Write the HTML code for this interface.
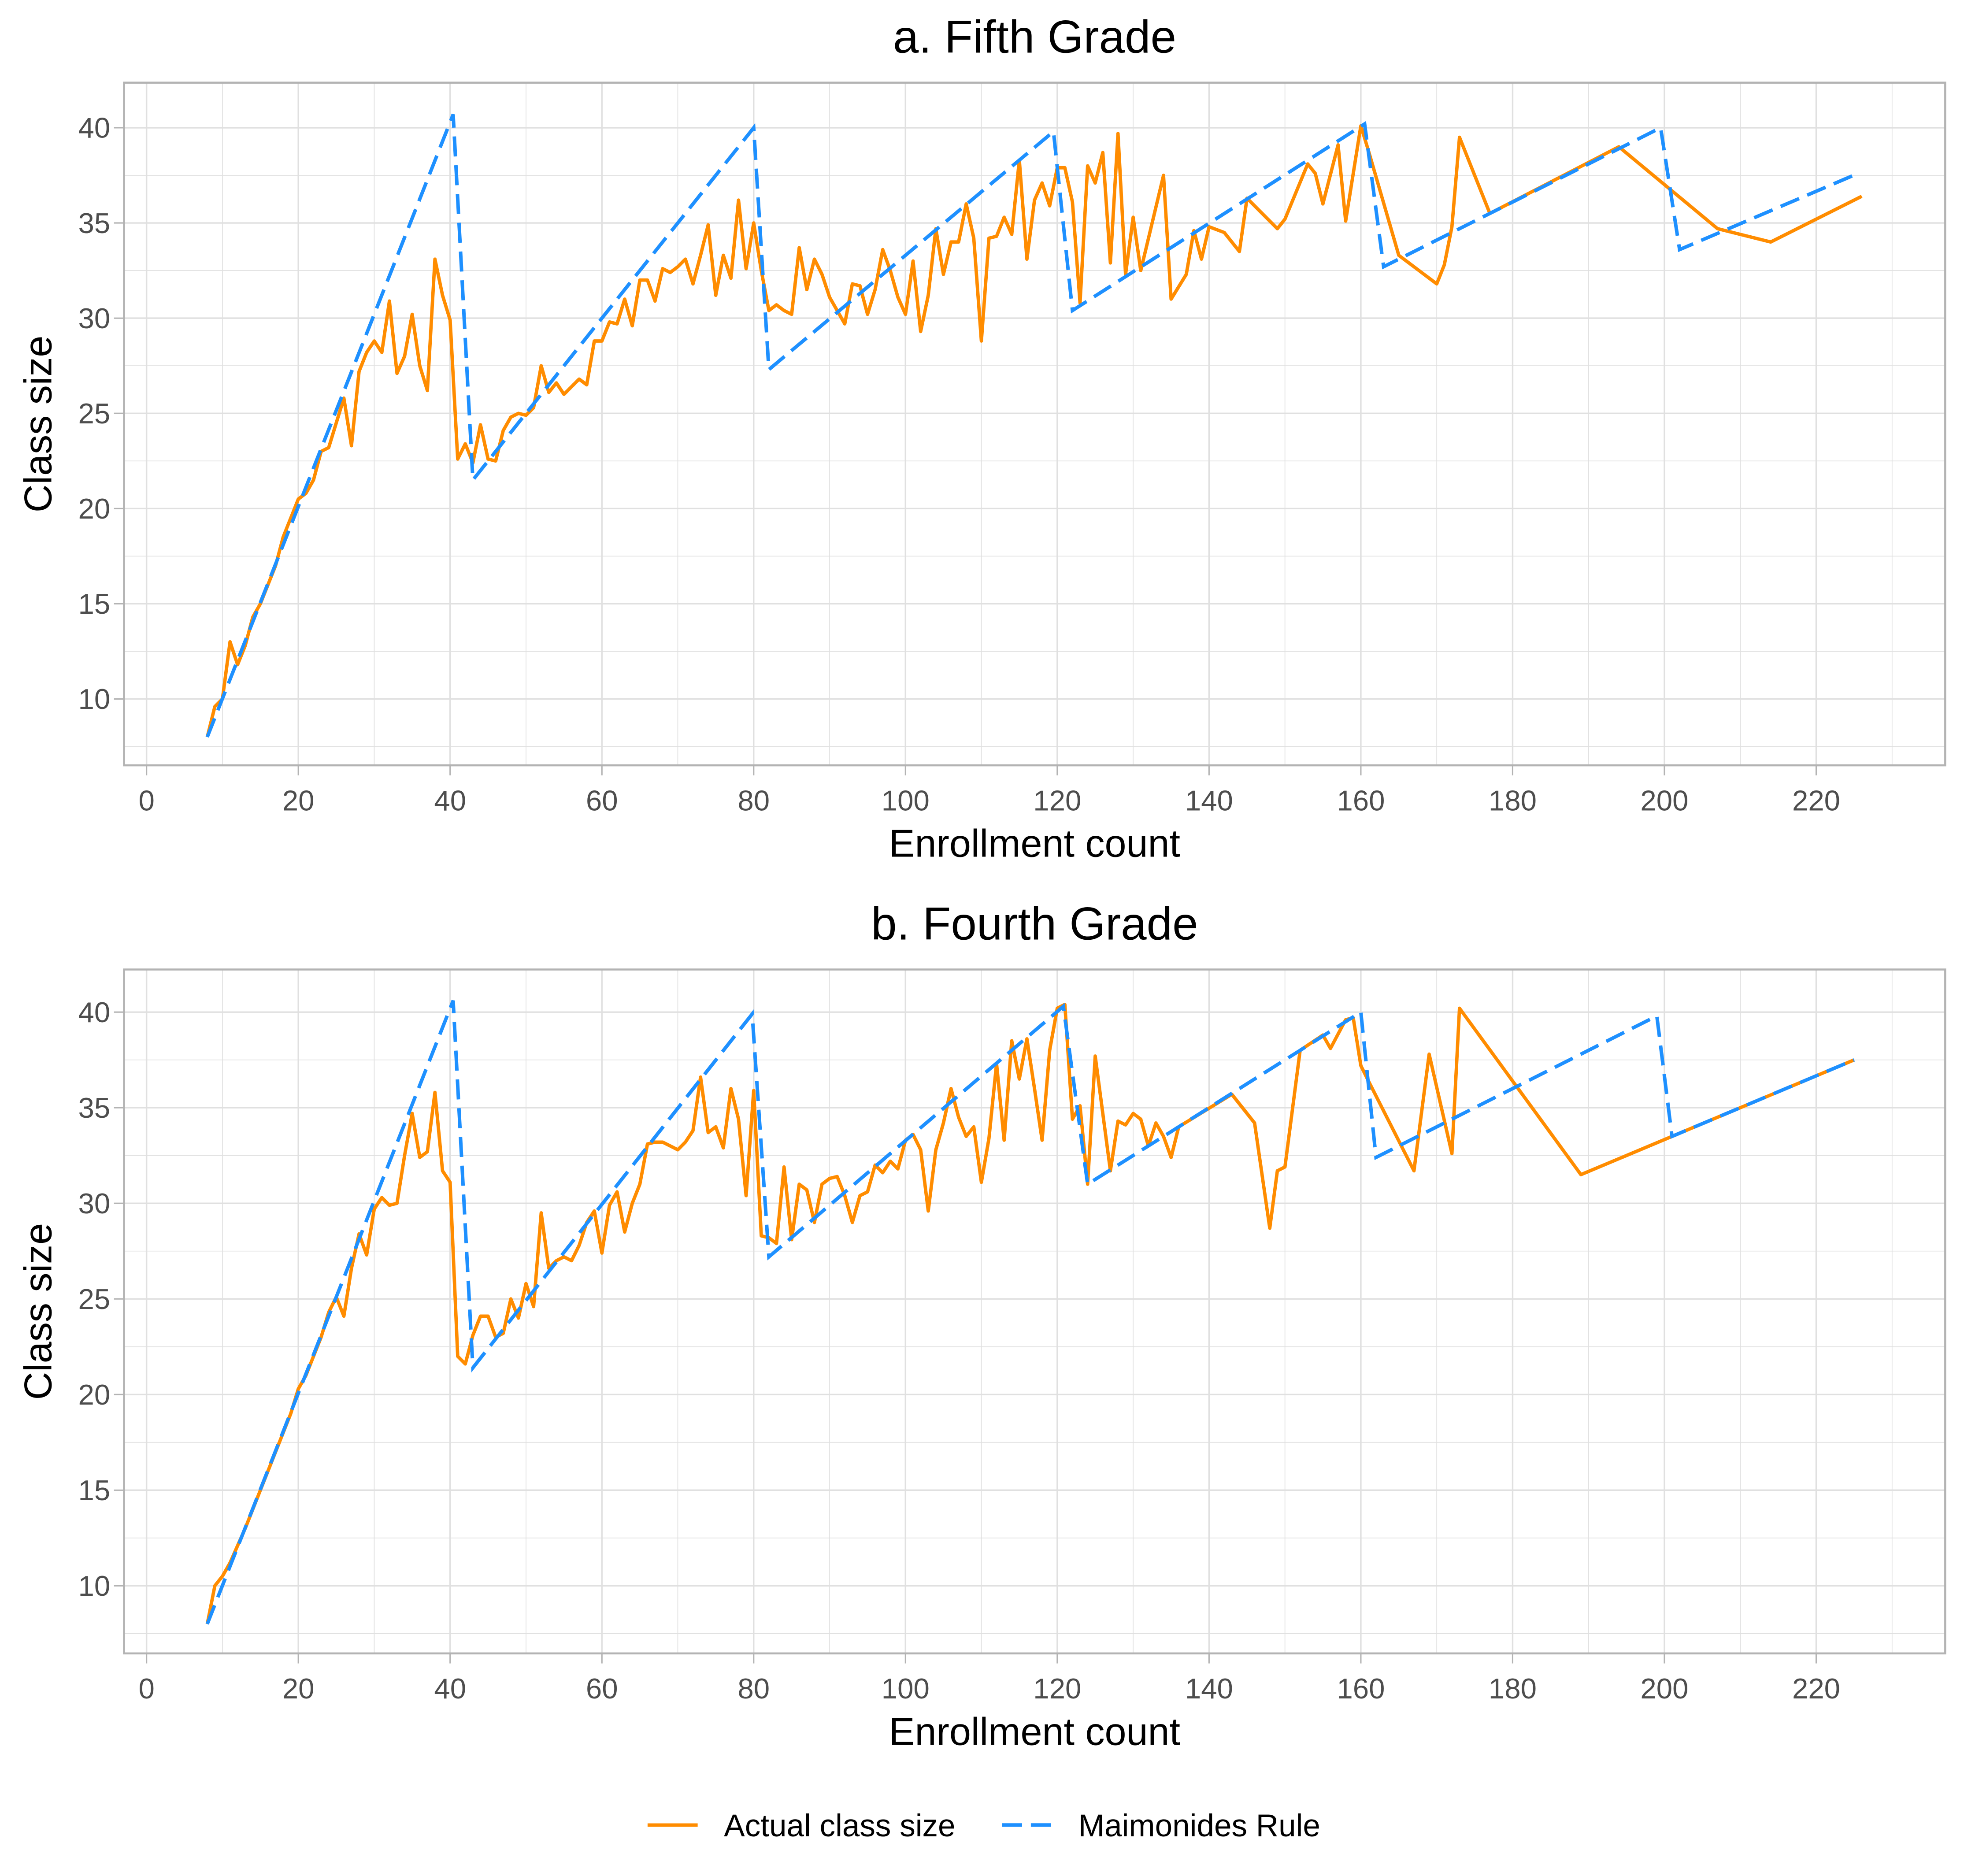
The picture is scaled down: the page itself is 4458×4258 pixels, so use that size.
<!DOCTYPE html>
<html><head><meta charset="utf-8"><style>
html,body{margin:0;padding:0;background:#fff;}
svg{display:block;font-family:"Liberation Sans",sans-serif;}
</style></head><body>
<svg id="chart" width="4458" height="4258" viewBox="0 0 1568 1497.7" preserveAspectRatio="none" xmlns="http://www.w3.org/2000/svg"></svg>
<script>
const xTicks=[0,20,40,60,80,100,120,140,160,180,200,220];
const yTicks=[10,15,20,25,30,35,40];
const titles=["a. Fifth Grade","b. Fourth Grade"];
const ruleA=[[8,8],[40.4,40.7],[43,21.5],[80,40],[82,27.3],[119.5,39.8],[122,30.4],[160.5,40.2],[163,32.7],[199.5,40],[202,33.6],[225.5,37.6]];
const ruleB=[[8,8],[40.4,40.6],[43,21.4],[79.8,39.9],[82,27.2],[120.8,40.3],[124,31],[160,40],[162,32.4],[199,39.8],[201,33.5],[225,37.5]];
const actualA=[[8,8],[9,9.6],[10,10],[11,13],[12,11.8],[13,12.8],[14,14.3],[15,15],[16,16],[17,17],[18,18.5],[19,19.5],[20,20.5],[21,20.8],[22,21.5],[23,23],[24,23.2],[25,24.5],[26,25.8],[27,23.3],[28,27.2],[29,28.2],[30,28.8],[31,28.2],[32,30.9],[33,27.1],[34,28],[35,30.2],[36,27.5],[37,26.2],[38,33.1],[39,31.2],[40,29.9],[41,22.6],[42,23.4],[43,22.4],[44,24.4],[45,22.6],[46,22.5],[47,24.1],[48,24.8],[49,25],[50,24.9],[51,25.3],[52,27.5],[53,26.1],[54,26.6],[55,26],[56,26.4],[57,26.8],[58,26.5],[59,28.8],[60,28.8],[61,29.8],[62,29.7],[63,31],[64,29.6],[65,32],[66,32],[67,30.9],[68,32.6],[69,32.4],[70,32.7],[71,33.1],[72,31.8],[73,33.3],[74,34.9],[75,31.2],[76,33.3],[77,32.1],[78,36.2],[79,32.6],[80,35],[81,32.5],[82,30.4],[83,30.7],[84,30.4],[85,30.2],[86,33.7],[87,31.5],[88,33.1],[89,32.3],[90,31.1],[91,30.4],[92,29.7],[93,31.8],[94,31.7],[95,30.2],[96,31.5],[97,33.6],[98,32.5],[99,31.1],[100,30.2],[101,33],[102,29.3],[103,31.2],[104,34.7],[105,32.3],[106,34],[107,34],[108,36],[109,34.2],[110,28.8],[111,34.2],[112,34.3],[113,35.3],[114,34.4],[115,38.3],[116,33.1],[117,36.2],[118,37.1],[119,35.9],[120,37.9],[121,37.9],[122,36.1],[123,30.8],[124,38],[125,37.1],[126,38.7],[127,32.9],[128,39.7],[129,32.3],[130,35.3],[131,32.5],[134,37.5],[135,31],[137,32.3],[138,34.6],[139,33.1],[140,34.8],[142,34.5],[144,33.5],[145,36.3],[149,34.7],[150,35.2],[153,38.1],[154,37.6],[155,36],[157,39.1],[158,35.1],[160,40.1],[161,38.8],[165,33.3],[170,31.8],[171,32.8],[172,34.8],[173,39.5],[177,35.5],[194,39],[207,34.7],[214,34],[226,36.4]];
const actualB=[[8,8],[9,10],[10,10.5],[11,11.2],[13,13],[15,15],[17,17],[19,19],[20,20.3],[21,21],[23,23],[24,24.3],[25,25.1],[26,24.1],[27,26.6],[28,28.4],[29,27.3],[30,29.7],[31,30.3],[32,29.9],[33,30],[34,32.5],[35,34.7],[36,32.4],[37,32.7],[38,35.8],[39,31.7],[40,31.1],[41,22],[42,21.6],[43,23.1],[44,24.1],[45,24.1],[46,23],[47,23.2],[48,25],[49,24],[50,25.8],[51,24.6],[52,29.5],[53,26.6],[54,27],[55,27.2],[56,27],[57,27.8],[58,29],[59,29.6],[60,27.4],[61,29.9],[62,30.6],[63,28.5],[64,30],[65,31],[66,33.1],[67,33.2],[68,33.2],[69,33],[70,32.8],[71,33.2],[72,33.8],[73,36.6],[74,33.7],[75,34],[76,32.9],[77,36],[78,34.4],[79,30.4],[80,35.9],[81,28.3],[82,28.2],[83,27.9],[84,31.9],[85,28.1],[86,31],[87,30.7],[88,29],[89,31],[90,31.3],[91,31.4],[92,30.4],[93,29],[94,30.4],[95,30.6],[96,32],[97,31.6],[98,32.2],[99,31.8],[100,33.3],[101,33.6],[102,32.8],[103,29.6],[104,32.8],[105,34.2],[106,36],[107,34.5],[108,33.5],[109,34],[110,31.1],[111,33.4],[112,37.3],[113,33.3],[114,38.5],[115,36.5],[116,38.6],[117,36],[118,33.3],[119,38],[120,40.2],[121,40.4],[122,34.4],[123,35.1],[124,31],[125,37.7],[127,31.7],[128,34.3],[129,34.1],[130,34.7],[131,34.4],[132,33],[133,34.2],[134,33.5],[135,32.4],[136,34],[143,35.7],[146,34.2],[148,28.7],[149,31.7],[150,31.9],[152,38],[155,38.8],[156,38.1],[158,39.6],[159,39.7],[160,37.2],[161,36.4],[167,31.7],[169,37.8],[172,32.6],[173,40.2],[189,31.5],[225,37.5]];

const NS="http://www.w3.org/2000/svg";
const svg=document.getElementById('chart');
function mk(tag,attrs,parent){const e=document.createElementNS(NS,tag);for(const k in attrs)e.setAttribute(k,attrs[k]);(parent||svg).appendChild(e);return e;}
const panels=[{top:66,bot:611,y40:102,y10:558,actual:actualA,rule:ruleA,ty:42},{top:774,bot:1320,y40:808,y10:1266,actual:actualB,rule:ruleB,ty:750}];
const L=99,R=1553,x0=117,x220=1450;
const sx=v=>x0+(x220-x0)*v/220;
panels.forEach((p,i)=>{
  const sy=v=>p.y10+(p.y40-p.y10)*(v-10)/30;
  const g=mk('g',{});
  
  
  mk('rect',{x:L,y:p.top,width:R-L,height:p.bot-p.top,fill:'#fff'},g);
  for(let v=-10;v<=240;v+=10){const X=sx(v);if(X<L||X>R)continue;mk('line',{x1:X,x2:X,y1:p.top,y2:p.bot,stroke:'#e0e0e0','stroke-width':v%20===0?1.2:0.6},g);}
  for(let v=7.5;v<=42.5;v+=2.5){const Y=sy(v);if(Y<p.top||Y>p.bot)continue;mk('line',{x1:L,x2:R,y1:Y,y2:Y,stroke:'#e0e0e0','stroke-width':v%5===0?1.2:0.6},g);}
  mk('rect',{x:L,y:p.top,width:R-L,height:p.bot-p.top,fill:'none',stroke:'#b3b3b3','stroke-width':1.6},g);
  xTicks.forEach(v=>{const X=sx(v);mk('line',{x1:X,x2:X,y1:p.bot,y2:p.bot+8,stroke:'#b3b3b3','stroke-width':1.1},g);
    const t=mk('text',{x:X,y:p.bot+36,'text-anchor':'middle','font-size':23,fill:'#4d4d4d'},g);t.textContent=v;});
  yTicks.forEach(v=>{const Y=sy(v);mk('line',{x1:L-8,x2:L,y1:Y,y2:Y,stroke:'#b3b3b3','stroke-width':1.1},g);
    const t=mk('text',{x:L-11,y:Y+8,'text-anchor':'end','font-size':23,fill:'#4d4d4d'},g);t.textContent=v;});
  const ti=mk('text',{x:826,y:p.ty,'text-anchor':'middle','font-size':37,fill:'#000'},g);ti.textContent=titles[i];
  
  const xt=mk('text',{x:826,y:p.bot+73,'text-anchor':'middle','font-size':31,fill:'#000'},g);xt.textContent='Enrollment count';
  
  const yc=(p.top+p.bot)/2;
  const yt=mk('text',{x:41,y:yc,'text-anchor':'middle','font-size':31,fill:'#000',transform:`rotate(-90 41 ${yc})`},g);yt.textContent='Class size';
  
  const pa=mk('polyline',{points:p.actual.map(d=>sx(d[0])+','+sy(d[1])).join(' '),fill:'none',stroke:'#ff8c00','stroke-width':2.7,'stroke-linejoin':'round'},g);
  
  const pr=mk('polyline',{points:p.rule.map(d=>sx(d[0])+','+sy(d[1])).join(' '),fill:'none',stroke:'#1e90ff','stroke-width':2.8,'stroke-dasharray':'16 7'},g);
  
});
const lg=mk('g',{});

mk('line',{x1:517,x2:557,y1:1457,y2:1457,stroke:'#ff8c00','stroke-width':2.7},lg);
let t=mk('text',{x:578,y:1466,'font-size':25,fill:'#000'},lg);t.textContent='Actual class size';

mk('line',{x1:800,x2:840,y1:1457,y2:1457,stroke:'#1e90ff','stroke-width':2.8,'stroke-dasharray':'16 7'},lg);
t=mk('text',{x:861,y:1466,'font-size':25,fill:'#000'},lg);t.textContent='Maimonides Rule';

</script>
</body></html>
